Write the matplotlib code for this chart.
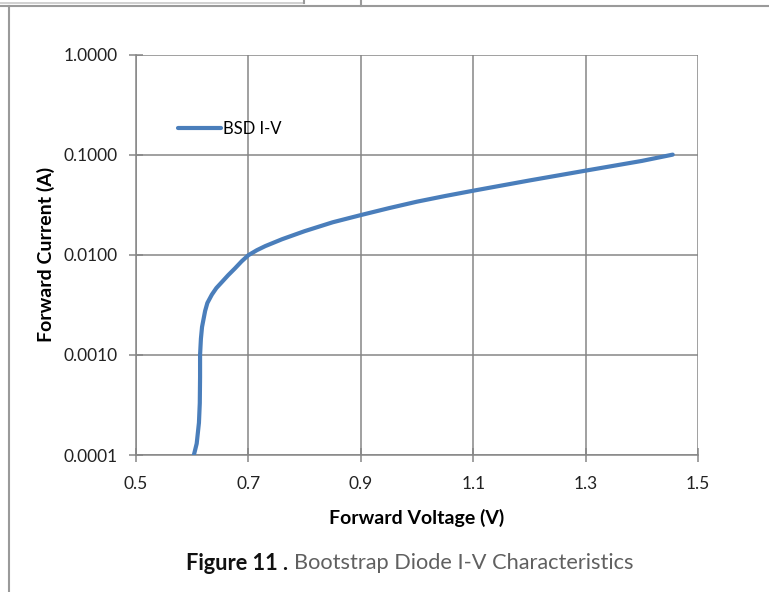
import matplotlib
matplotlib.use('Agg')
from matplotlib import pyplot as plt
from matplotlib.lines import Line2D
from matplotlib.ticker import FixedLocator, FixedFormatter

# values
voltage = [0.603, 0.608, 0.612, 0.6135, 0.614, 0.614, 0.6155, 0.6175, 0.623,
           0.627, 0.635, 0.643, 0.653, 0.664, 0.676, 0.688, 0.700, 0.715,
           0.73, 0.76, 0.80, 0.85, 0.90, 0.95, 1.00, 1.05, 1.10, 1.20, 1.30,
           1.40, 1.455]
current = [1.0e-4, 1.3e-4, 2.1e-4, 3.3e-4, 6.0e-4, 1.0e-3, 1.45e-3, 1.9e-3,
           2.75e-3, 3.3e-3, 4.0e-3, 4.65e-3, 5.35e-3, 6.25e-3, 7.3e-3,
           8.6e-3, 9.9e-3, 1.11e-2, 1.22e-2, 1.43e-2, 1.72e-2, 2.11e-2,
           2.49e-2, 2.92e-2, 3.39e-2, 3.86e-2, 4.36e-2, 5.52e-2, 6.92e-2,
           8.65e-2, 1.0e-1]
series_name = 'BSD I-V'
x_ticks = [0.5, 0.7, 0.9, 1.1, 1.3, 1.5]
y_ticks = [0.0001, 0.001, 0.01, 0.1, 1.0]
y_labels = ['0.0001', '0.0010', '0.0100', '0.1000', '1.0000']

W, H = 769, 592
fig = plt.figure(figsize=(W / 100, H / 100), dpi=100)
plt.rcParams['font.family'] = ['Lato', 'DejaVu Sans']

grid_col = '#868686'
blue = '#4a7ebb'

# page frame lines around the chart
def px_line(xs, ys, col='#9a9a9a', lw=1.5):
    fig.add_artist(Line2D([x / W for x in xs], [1 - y / H for y in ys],
                          color=col, lw=lw, transform=fig.transFigure))

px_line([0, 304], [3, 3], col='#c8c8c8', lw=1.2)
px_line([304, 304], [0, 3])
px_line([361, 361], [0, 6])
px_line([0, 769], [6, 6])
px_line([9, 9], [6, 592])

ax = fig.add_axes([136 / W, 1 - 455 / H, (698 - 136) / W, (455 - 54.5) / H])
ax.plot(voltage, current, color=blue, lw=3, solid_capstyle='round',
        solid_joinstyle='round', label=series_name, zorder=3)
ax.set_yscale('log')
ax.set_xlim(0.5, 1.5)
ax.set_ylim(1e-4, 1.0)
ax.xaxis.set_major_locator(FixedLocator(x_ticks))
ax.xaxis.set_major_formatter(FixedFormatter([str(v) for v in x_ticks]))
ax.yaxis.set_major_locator(FixedLocator(y_ticks))
ax.yaxis.set_major_formatter(FixedFormatter(y_labels))
ax.yaxis.set_minor_locator(FixedLocator([]))

ax.grid(True, color=grid_col, lw=1.1)
for s in ['top', 'right']:
    ax.spines[s].set_visible(False)
for s in ['left', 'bottom']:
    ax.spines[s].set_color(grid_col)
    ax.spines[s].set_linewidth(1.1)
ax.tick_params(axis='both', direction='inout', length=10, width=1.1,
               color=grid_col, labelsize=12.5, labelcolor='#222222')
ax.tick_params(axis='x', pad=10)
ax.tick_params(axis='y', pad=8)

ax.set_xlabel('Forward Voltage (V)', fontsize=14, fontweight='bold', labelpad=12)
ax.set_ylabel('Forward Current (A)', fontsize=14, fontweight='bold', labelpad=6)

ax.legend(loc='upper left', bbox_to_anchor=(0.062, 0.85), frameon=False,
          fontsize=12, handlelength=2.6, handletextpad=0.1, borderaxespad=0)

# caption: bold figure number followed by grey title
cap_y = 1 - 563 / H
t1 = fig.text(186 / W, cap_y, 'Figure 11 .', fontsize=15.7, fontweight='bold',
              color='#111111', va='center')
fig.canvas.draw()
bb = t1.get_window_extent(fig.canvas.get_renderer())
fig.text((bb.x1 + 6) / W, cap_y, 'Bootstrap Diode I-V Characteristics',
         fontsize=15.7, color='#606060', va='center')

fig.savefig('out.png', dpi=100)
